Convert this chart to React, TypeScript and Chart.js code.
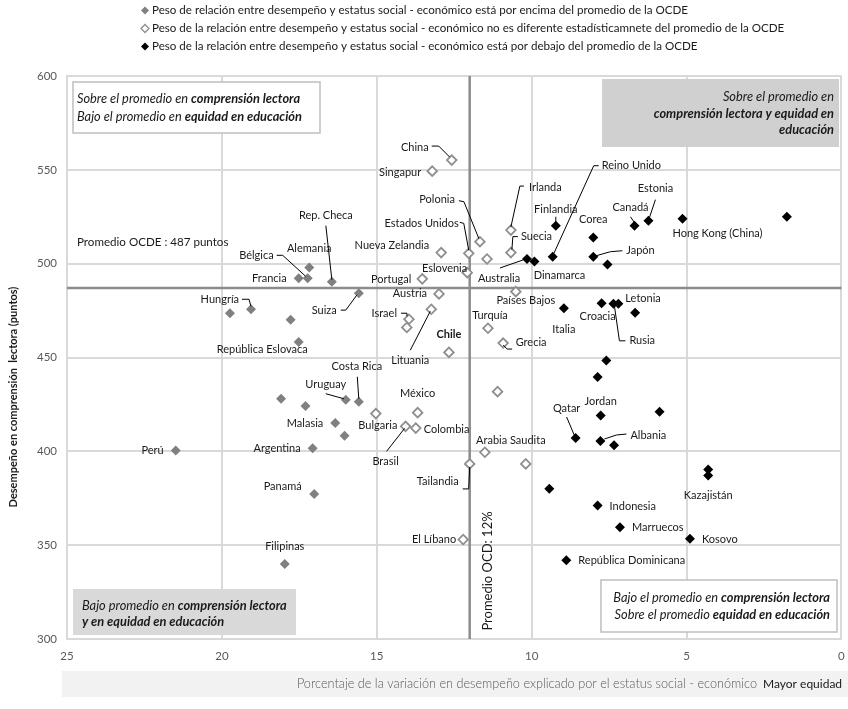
import { useEffect, useRef } from 'react';
import { Chart, registerables } from 'chart.js';

Chart.register(...registerables);

// ---------- DATA ----------
// Grey filled: relationship stronger than OECD average
const grayNames = ['Alemania', 'Francia', 'Bélgica', 'Rep. Checa', 'Hungría', '', '', 'República Eslovaca', 'Suiza', 'Costa Rica', 'Uruguay', '', '', 'Malasia', '', 'Argentina', 'Perú', 'Panamá', 'Filipinas'];
const grayX = [17.18, 17.52, 17.23, 16.45, 19.06, 19.74, 17.78, 17.52, 15.58, 15.58, 16.0, 18.09, 17.3, 16.34, 16.04, 17.07, 21.49, 17.02, 17.97];
const grayY = [498, 492.2, 492.2, 490.4, 475.7, 473.6, 470.1, 458.2, 484.3, 426.4, 427.5, 428, 424.1, 415.1, 408.3, 401.6, 400.5, 377.3, 339.9];

// Hollow: not statistically different from OECD average
const hollowNames = ['China', 'Singapur', 'Nueva Zelandia', 'Portugal', 'Austria', 'Israel', '', 'Lituania', 'Chile', 'México', 'Bulgaria', 'Brasil', 'Colombia', 'Tailandia', 'El Líbano', 'Estados Unidos', 'Polonia', 'Eslovenia', '', 'Irlanda', 'Suecia', 'Países Bajos', 'Turquía', 'Grecia', '', 'Arabia Saudita', ''];
const hollowX = [12.58, 13.21, 12.92, 13.53, 12.99, 13.96, 14.03, 13.24, 12.67, 13.68, 15.03, 14.07, 13.74, 12.0, 12.21, 12.03, 11.67, 12.08, 11.44, 10.67, 10.67, 10.51, 11.41, 10.92, 11.1, 11.51, 10.19];
const hollowY = [555.2, 549.3, 505.9, 491.9, 483.9, 470.4, 466, 475.7, 452.7, 420.6, 420.1, 413.3, 412.4, 393.3, 353, 505.5, 511.7, 495.2, 502.5, 517.9, 505.9, 485.1, 465.6, 457.7, 431.8, 399.5, 393.3];

// Black: relationship weaker than OECD average
const blackNames = ['Australia', 'Dinamarca', 'Reino Unido', 'Finlandia', 'Corea', 'Japón', '', 'Canadá', 'Estonia', 'Hong Kong (China)', '', 'Italia', 'Croacia', 'Rusia', 'Letonia', '', '', '', 'Jordan', '', 'Qatar', 'Albania', '', '', 'Kazajistán', '', 'Indonesia', 'Marruecos', 'Kosovo', 'República Dominicana'];
const blackX = [10.15, 9.91, 9.32, 9.22, 8.01, 8.01, 7.55, 6.68, 6.23, 5.13, 1.76, 8.96, 7.74, 7.36, 7.2, 6.66, 7.59, 7.87, 7.77, 5.87, 8.58, 7.78, 7.34, 4.3, 4.3, 9.43, 7.87, 7.15, 4.89, 8.88];
const blackY = [502.5, 501.1, 503.7, 520.2, 514, 503.7, 499.5, 520.2, 522.9, 523.9, 525, 476.3, 478.9, 478.6, 478.6, 473.9, 448.4, 439.6, 419.1, 421.1, 407.1, 405.5, 403.2, 390.3, 387.1, 380, 371.1, 359.6, 353.4, 341.9];

const xTickValues = [25, 20, 15, 10, 5, 0];
const yTickValues = [300, 350, 400, 450, 500, 550, 600];
const oecdReading = 487;
const oecdShare = 12;

const legendTexts = [
  'Peso de relación entre desempeño y estatus social - económico está por encima del promedio de la OCDE',
  'Peso de la relación entre desempeño y estatus social - económico no es diferente estadísticamnete del promedio de la OCDE',
  'Peso de la relación entre desempeño y estatus social - económico está por debajo del promedio de la OCDE',
];
const yTitle = 'Desempeño en comprensión  lectora (puntos)';
const xTitle = 'Porcentaje de la variación en desempeño explicado por el estatus social - económico';
const xTitleRight = 'Mayor equidad';
const oecdReadingText = 'Promedio OCDE : 487 puntos';
const oecdShareText = 'Promedio OCD: 12%';

// ---------- LAYOUT / STYLE ----------
const FONT = "Lato, 'Open Sans', sans-serif";
const f = (size: number, weight = 'normal', style = 'normal') => `${style} ${weight} ${size}px ${FONT}`;

const GRAY = '#808080';
const HOLLOW = '#8f8f8f';
const BLACK = '#000000';
const TEXT = '#1a1a1a';
const LABEL_SIZE = 11;

type LabelSpec = { dx: number; dy: number; align: CanvasTextAlign; bold?: boolean; leader?: number[][] };
const labelLayout: Record<string, LabelSpec> = {
  'Alemania': { dx: 0, dy: -19, align: 'center' },
  'Francia': { dx: -12, dy: 0, align: 'right' },
  'Bélgica': { dx: -34, dy: -23, align: 'right', leader: [[-31, -23], [-25, -23], [-2, -2]] },
  'Rep. Checa': { dx: -6, dy: -66, align: 'center', leader: [[-6, -56], [0, -2]] },
  'Hungría': { dx: -12, dy: -10, align: 'right', leader: [[-9, -10], [-2, -10], [0, -3]] },
  'República Eslovaca': { dx: -36.5, dy: 7, align: 'center' },
  'Suiza': { dx: -22, dy: 17, align: 'right', leader: [[-18, 17], [-13, 17], [-2, 2]] },
  'Costa Rica': { dx: -2, dy: -35, align: 'center', leader: [[-1.5, -25], [0, -3]] },
  'Uruguay': { dx: -20, dy: -15, align: 'center', leader: [[-20, -6], [-2, -1]] },
  'Malasia': { dx: -12, dy: 0.5, align: 'right' },
  'Argentina': { dx: -12, dy: 0, align: 'right' },
  'Perú': { dx: -12, dy: 0, align: 'right' },
  'Panamá': { dx: -31.5, dy: -7, align: 'center' },
  'Filipinas': { dx: 0, dy: -18, align: 'center' },

  'China': { dx: -23, dy: -13, align: 'right', leader: [[-20, -14], [-13, -14], [-2, -3]] },
  'Singapur': { dx: -11, dy: 1, align: 'right' },
  'Nueva Zelandia': { dx: -12, dy: -7, align: 'right' },
  'Portugal': { dx: -11, dy: 1, align: 'right' },
  'Austria': { dx: -12, dy: 0, align: 'right' },
  'Israel': { dx: -12, dy: -6, align: 'right', leader: [[-8, -6], [-2, -6], [-2, -3]] },
  'Lituania': { dx: -21, dy: 51, align: 'center', leader: [[-21, 41], [-1, 2]] },
  'Chile': { dx: 0, dy: -18, align: 'center', bold: true },
  'México': { dx: 0, dy: -19, align: 'center' },
  'Bulgaria': { dx: 2, dy: 12, align: 'center' },
  'Brasil': { dx: -20, dy: 35, align: 'center', leader: [[-19, 25], [-1, 2]] },
  'Colombia': { dx: 8, dy: 1, align: 'left' },
  'Tailandia': { dx: -11, dy: 18, align: 'right', leader: [[-7, 25], [-1, 25], [0, 3]] },
  'El Líbano': { dx: -7, dy: 0, align: 'right' },
  'Estados Unidos': { dx: -10, dy: -30, align: 'right', leader: [[-9, -31], [-5, -30], [0, -3]] },
  'Polonia': { dx: -25, dy: -42, align: 'right', leader: [[-21, -41], [-16, -40], [-1, -3]] },
  'Eslovenia': { dx: 0, dy: -4, align: 'right' },
  'Irlanda': { dx: 18, dy: -43, align: 'left', leader: [[13, -44], [9, -44], [0, -3]] },
  'Suecia': { dx: 10, dy: -16, align: 'left', leader: [[7, -16], [2, -16], [1, -3]] },
  'Países Bajos': { dx: 10, dy: 9, align: 'center' },
  'Turquía': { dx: 2, dy: -13, align: 'center' },
  'Grecia': { dx: 12.5, dy: -1, align: 'left', leader: [[0, 2], [4, 6], [9, 6]] },
  'Arabia Saudita': { dx: 26, dy: -12, align: 'center' },

  'Australia': { dx: -28, dy: 19, align: 'center', leader: [[-27, 9], [-4, 1]] },
  'Dinamarca': { dx: 25, dy: 14, align: 'center' },
  'Reino Unido': { dx: 49, dy: -91, align: 'left', leader: [[46, -91], [41, -91], [1, -3]] },
  'Finlandia': { dx: 0, dy: -16, align: 'center', leader: [[0, -9], [0, -4]] },
  'Corea': { dx: 0, dy: -18, align: 'center' },
  'Japón': { dx: 33, dy: -6, align: 'left', leader: [[29, -6], [17, -5], [3, -1]] },
  'Canadá': { dx: -4, dy: -18, align: 'center', leader: [[-4, -9], [0, -3]] },
  'Estonia': { dx: 7, dy: -32, align: 'center', leader: [[7, -21], [1, -3]] },
  'Hong Kong (China)': { dx: 35, dy: 15, align: 'center' },
  'Italia': { dx: 0, dy: 21, align: 'center' },
  'Croacia': { dx: -4, dy: 13, align: 'center' },
  'Rusia': { dx: 16, dy: 37, align: 'left', leader: [[1, 2], [6, 37], [12, 37]] },
  'Letonia': { dx: 7, dy: -5, align: 'left' },
  'Jordan': { dx: 0, dy: -14, align: 'center' },
  'Qatar': { dx: -9, dy: -30, align: 'center', leader: [[-9, -21], [-1, -2]] },
  'Albania': { dx: 30, dy: -6, align: 'left', leader: [[4, -2], [16, -6], [26, -7]] },
  'Kazajistán': { dx: 0, dy: 20, align: 'center' },
  'Indonesia': { dx: 12, dy: 0.5, align: 'left' },
  'Marruecos': { dx: 12, dy: 0.5, align: 'left' },
  'Kosovo': { dx: 12, dy: 0.5, align: 'left' },
  'República Dominicana': { dx: 12, dy: 0.5, align: 'left' },
};

type Part = [string, string];
function drawRich(ctx: CanvasRenderingContext2D, parts: Part[], x: number, y: number, align: 'left' | 'right') {
  let total = 0;
  parts.forEach(([t, ft]) => { ctx.font = ft; total += ctx.measureText(t).width; });
  let cx = align === 'left' ? x : x - total;
  ctx.textAlign = 'left';
  ctx.textBaseline = 'middle';
  parts.forEach(([t, ft]) => { ctx.font = ft; ctx.fillText(t, cx, y); cx += ctx.measureText(t).width; });
}

function diamond(ctx: CanvasRenderingContext2D, x: number, y: number, r: number) {
  ctx.beginPath();
  ctx.moveTo(x - r, y); ctx.lineTo(x, y - r); ctx.lineTo(x + r, y); ctx.lineTo(x, y + r); ctx.closePath();
}

const annotPlugin = {
  id: 'annot',
  beforeDatasetsDraw(chart: any) {
    const { ctx, chartArea: a, scales } = chart;
    const xs = scales.x, ys = scales.y;
    ctx.save();
    // reference lines
    ctx.strokeStyle = '#8c8c8c';
    ctx.lineWidth = 2.5;
    const yy = ys.getPixelForValue(oecdReading);
    ctx.beginPath(); ctx.moveTo(a.left, yy); ctx.lineTo(a.right, yy); ctx.stroke();
    const xx = xs.getPixelForValue(oecdShare);
    ctx.beginPath(); ctx.moveTo(xx, a.top); ctx.lineTo(xx, a.bottom); ctx.stroke();

    const it = (s: number) => f(s, 'normal', 'italic');
    const bi = (s: number) => f(s, 'bold', 'italic');
    const fs = 12.8;
    // top-left box
    ctx.fillStyle = '#ffffff';
    ctx.fillRect(a.left + 6, a.top + 6, 247, 51);
    ctx.strokeStyle = '#bfbfbf'; ctx.lineWidth = 1.5;
    ctx.strokeRect(a.left + 6, a.top + 6, 247, 51);
    ctx.fillStyle = TEXT;
    drawRich(ctx, [['Sobre el promedio en ', it(fs)], ['comprensión lectora', bi(fs)]], a.left + 10, a.top + 23, 'left');
    drawRich(ctx, [['Bajo el promedio en ', it(fs)], ['equidad en educación', bi(fs)]], a.left + 10, a.top + 41, 'left');
    // top-right box
    ctx.fillStyle = '#d0d0d0';
    ctx.fillRect(602, a.top + 3, 237, 68);
    ctx.fillStyle = TEXT;
    drawRich(ctx, [['Sobre el promedio en', it(fs)]], 834, a.top + 21, 'right');
    drawRich(ctx, [['comprensión lectora y equidad en', bi(fs)]], 834, a.top + 38, 'right');
    drawRich(ctx, [['educación', bi(fs)]], 834, a.top + 54, 'right');
    // bottom-left box
    ctx.fillStyle = '#d9d9d9';
    ctx.fillRect(a.left + 6, a.bottom - 50, 223, 46);
    ctx.fillStyle = TEXT;
    drawRich(ctx, [['Bajo promedio en ', it(fs)], ['comprensión lectora', bi(fs)]], a.left + 15, a.bottom - 33, 'left');
    drawRich(ctx, [['y en equidad en educación', bi(fs)]], a.left + 15, a.bottom - 17, 'left');
    // bottom-right box
    ctx.fillStyle = '#ffffff';
    ctx.fillRect(601, a.bottom - 59, 236, 52);
    ctx.strokeStyle = '#bfbfbf'; ctx.lineWidth = 1.5;
    ctx.strokeRect(601, a.bottom - 59, 236, 52);
    ctx.fillStyle = TEXT;
    drawRich(ctx, [['Bajo el promedio en ', it(fs)], ['comprensión lectora', bi(fs)]], 830, a.bottom - 41, 'right');
    drawRich(ctx, [['Sobre el promedio ', it(fs)], ['equidad en educación', bi(fs)]], 830, a.bottom - 24, 'right');

    // reference texts
    ctx.fillStyle = TEXT;
    ctx.font = f(11.6);
    ctx.textAlign = 'left'; ctx.textBaseline = 'middle';
    ctx.fillText(oecdReadingText, a.left + 10, yy - 46);
    ctx.save();
    ctx.translate(xx + 18, a.bottom - 68);
    ctx.rotate(-Math.PI / 2);
    ctx.font = f(13);
    ctx.textAlign = 'center';
    ctx.fillText(oecdShareText, 0, 0);
    ctx.restore();
    ctx.restore();
  },
  afterDatasetsDraw(chart: any) {
    const { ctx, scales } = chart;
    const xs = scales.x, ys = scales.y;
    const sets = [
      { names: grayNames, xv: grayX, yv: grayY },
      { names: hollowNames, xv: hollowX, yv: hollowY },
      { names: blackNames, xv: blackX, yv: blackY },
    ];
    ctx.save();
    ctx.strokeStyle = '#000';
    ctx.lineWidth = 1;
    ctx.fillStyle = TEXT;
    ctx.textBaseline = 'middle';
    sets.forEach((s) => s.names.forEach((n, i) => {
      if (!n) return;
      const px = xs.getPixelForValue(s.xv[i]);
      const py = ys.getPixelForValue(s.yv[i]);
      const L = labelLayout[n] || { dx: 0, dy: -15, align: 'center' };
      if (L.leader) {
        ctx.beginPath();
        L.leader.forEach(([lx, ly], k) => (k ? ctx.lineTo(px + lx, py + ly) : ctx.moveTo(px + lx, py + ly)));
        ctx.stroke();
      }
      ctx.font = f(LABEL_SIZE, L.bold ? 'bold' : 'normal');
      ctx.textAlign = L.align;
      ctx.fillText(n, px + L.dx, py + L.dy);
    }));
    ctx.restore();
  },
  afterDraw(chart: any) {
    const { ctx, chartArea: a } = chart;
    ctx.save();
    // legend
    const ly = [10.5, 28.5, 46.5];
    legendTexts.forEach((t, i) => {
      diamond(ctx, 145, ly[i], 4);
      if (i === 0) { ctx.fillStyle = GRAY; ctx.fill(); }
      if (i === 1) { ctx.fillStyle = '#fff'; ctx.fill(); ctx.strokeStyle = HOLLOW; ctx.lineWidth = 1.3; ctx.stroke(); }
      if (i === 2) { ctx.fillStyle = BLACK; ctx.fill(); }
      ctx.fillStyle = TEXT;
      ctx.font = f(11.6);
      ctx.textAlign = 'left'; ctx.textBaseline = 'middle';
      ctx.fillText(t, 152, ly[i]);
    });
    // y title
    ctx.save();
    ctx.translate(13, 397);
    ctx.rotate(-Math.PI / 2);
    ctx.font = f(11, 'bold');
    ctx.fillStyle = TEXT;
    ctx.textAlign = 'center'; ctx.textBaseline = 'middle';
    ctx.fillText(yTitle, 0, 0);
    ctx.restore();
    // x title box
    ctx.fillStyle = '#f2f2f2';
    ctx.fillRect(62, a.bottom + 32, 786, 26);
    ctx.font = f(12.7, '300');
    ctx.fillStyle = '#595959';
    ctx.textAlign = 'right'; ctx.textBaseline = 'middle';
    ctx.fillText(xTitle, 757, a.bottom + 45);
    ctx.font = f(12);
    ctx.fillStyle = TEXT;
    ctx.textAlign = 'left';
    ctx.fillText(xTitleRight, 763, a.bottom + 45);
    ctx.restore();
  },
};

export default function App() {
  const ref = useRef<HTMLCanvasElement>(null);
  useEffect(() => {
    document.body.style.margin = '0';
    const canvas = ref.current!;
    const pts = (xv: number[], yv: number[]) => xv.map((v, i) => ({ x: v, y: yv[i] }));
    const chart = new Chart(canvas, {
      type: 'scatter',
      data: {
        datasets: [
          { label: 'gray', data: pts(grayX, grayY), pointStyle: 'rectRot', pointRadius: 5, backgroundColor: GRAY, borderColor: GRAY, borderWidth: 0 },
          { label: 'hollow', data: pts(hollowX, hollowY), pointStyle: 'rectRot', pointRadius: 4.8, backgroundColor: '#ffffff', borderColor: HOLLOW, borderWidth: 1.8 },
          { label: 'black', data: pts(blackX, blackY), pointStyle: 'rectRot', pointRadius: 5, backgroundColor: BLACK, borderColor: BLACK, borderWidth: 0 },
        ],
      },
      options: {
        responsive: false,
        animation: false,
        events: [],
        layout: { padding: { top: 76, right: 4, left: 0, bottom: 0 } },
        plugins: { legend: { display: false }, tooltip: { enabled: false } },
        scales: {
          x: {
            type: 'linear',
            reverse: true,
            min: 0,
            max: 25,
            afterFit: (s: any) => { s.height = 70; s.paddingLeft = 0; s.paddingRight = 0; },
            afterBuildTicks: (s: any) => { s.ticks = xTickValues.map((v) => ({ value: v })); },
            ticks: { color: '#595959', font: { family: FONT, size: 11.5 }, padding: 10 },
            grid: { color: '#d9d9d9', lineWidth: 2, drawTicks: false },
            border: { color: '#d9d9d9', width: 2 },
          },
          y: {
            type: 'linear',
            min: 300,
            max: 600,
            afterFit: (s: any) => { s.width = 67; s.paddingTop = 0; s.paddingBottom = 0; },
            afterBuildTicks: (s: any) => { s.ticks = yTickValues.map((v) => ({ value: v })); },
            ticks: { color: '#595959', font: { family: FONT, size: 11.5 }, padding: 10 },
            grid: { color: '#d9d9d9', lineWidth: 2, drawTicks: false },
            border: { color: '#d9d9d9', width: 2 },
          },
        },
      },
      plugins: [annotPlugin],
    });
    return () => chart.destroy();
  }, []);
  return <canvas ref={ref} width={848} height={709} style={{ display: 'block' }} />;
}
